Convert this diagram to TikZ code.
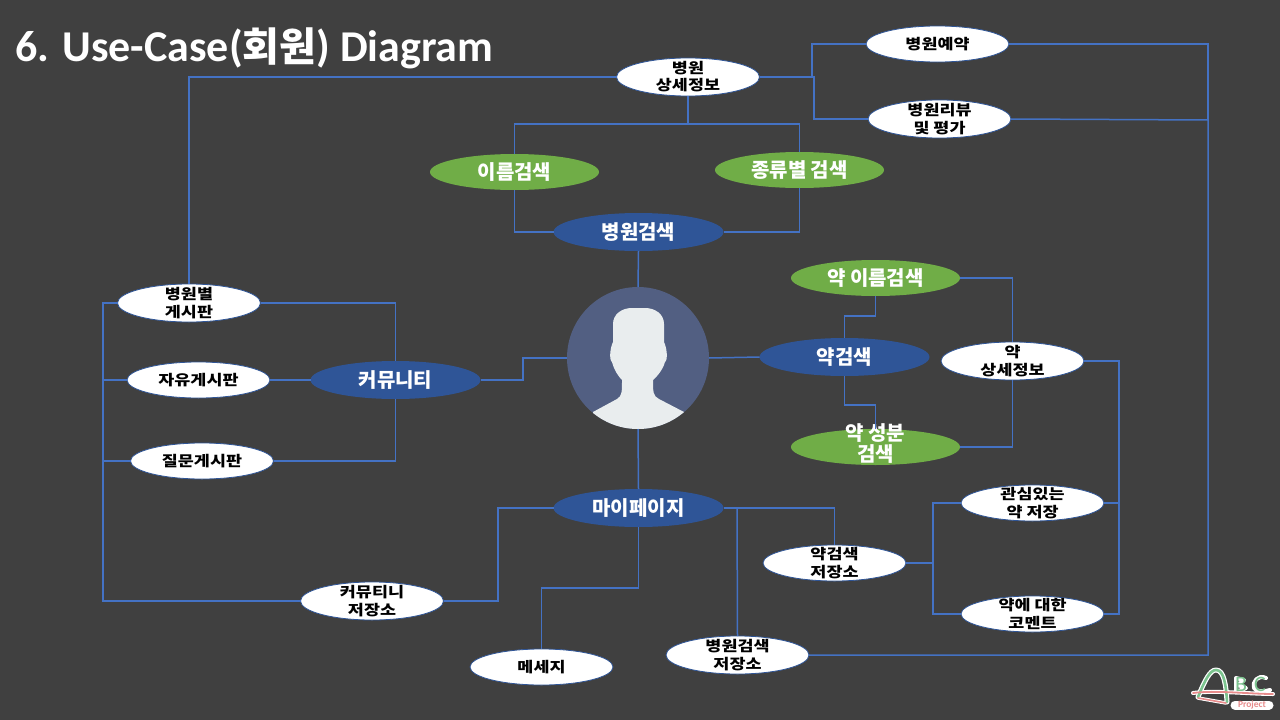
\documentclass[tikz,border=0pt]{standalone}
\usepackage{fontspec}
\setmainfont{Carlito}
\newfontfamily\kr{Noto Sans CJK KR}
\newfontfamily\krw[FakeStretch=1.2]{Noto Sans CJK KR}
\usetikzlibrary{shapes.geometric}
\definecolor{bgc}{HTML}{404040}
\definecolor{linec}{HTML}{4472C4}
\definecolor{bluec}{HTML}{2F5597}
\definecolor{greenc}{HTML}{70AD47}
\definecolor{actorc}{HTML}{525F82}
\definecolor{personc}{HTML}{E9EDEE}
\definecolor{logog}{HTML}{7CC48F}
\definecolor{logor}{HTML}{E88C8C}
\newcommand\one[1]{\makebox[0pt]{\raisebox{-.38em}[0pt][0pt]{#1}}}
\newcommand\two[2]{\makebox[0pt]{\raisebox{3.6pt}[0pt][0pt]{#1}}\makebox[0pt]{\raisebox{-14pt}[0pt][0pt]{#2}}}
\tikzset{
  oval/.style={shape=ellipse,inner sep=0pt,outer sep=0pt},
  whiteuse/.style={oval,fill=white,draw=bluec,line width=.8pt,minimum width=143pt,minimum height=38pt,text=black,font=\krw\bfseries\fontsize{14.5}{15}\selectfont},
  blueuse/.style={oval,fill=bluec,minimum width=170pt,minimum height=38pt,text=white,font=\kr\bfseries\fontsize{20}{20}\selectfont},
  greenuse/.style={oval,fill=greenc,minimum width=169pt,minimum height=36pt,text=white,font=\kr\bfseries\fontsize{20}{20}\selectfont},
  link/.style={draw=linec,line width=1.5pt},
}
\begin{document}
\begin{tikzpicture}[x=1pt,y=-1pt]
\useasboundingbox (0,0) rectangle (1280,720);
\fill[bgc] (0,0) rectangle (1280,720);
\node[anchor=west,inner sep=0pt,text=white,font=\bfseries\fontsize{44}{48}\selectfont] (title) at (15,48) {6. Use-Case({\kr\fontsize{40}{48}\selectfont 회원}) Diagram};
% junction coordinates
\coordinate (jA) at (812,77);
\coordinate (jB) at (814,77);
\coordinate (jC) at (688,124);
\coordinate (jD) at (1208,120);
\coordinate (jE) at (1119,503);
\coordinate (jF) at (933,563);
\coordinate (jG) at (103,380);
\coordinate (jH) at (103,461);
\coordinate (jI) at (737,508);
% connectors
\begin{scope}[on background layer/.style={}]
\end{scope}
% use cases
\node[circle,inner sep=0pt,outer sep=0pt,minimum size=142pt,fill=actorc] (actor) at (638,358) {};
\begin{scope}
\clip (638,358) circle (71pt);
\fill[personc] (593,412) -- (617,399) .. controls (622,396) and (622,392) .. (622,380) .. controls (616,374) and (613,366) .. (612,362) .. controls (609,360) and (610,348) .. (613,342) -- (613,324) .. controls (613,314) and (622,308) .. (632,308) -- (645,308) .. controls (655,308) and (664,314) .. (664,324) -- (664,342) .. controls (667,348) and (668,360) .. (665,362) .. controls (664,366) and (660,374) .. (653,380) .. controls (653,392) and (653,396) .. (659,399) -- (684,412) -- (684,440) -- (593,440) -- cycle;
\end{scope}
\node[whiteuse] (hdetail) at (688,77) {\two{병원}{상세정보}};
\node[whiteuse,minimum height=36pt] (hres) at (937.5,44) {\one{병원예약}};
\node[whiteuse] (hrev) at (939.5,119) {\two{병원리뷰}{및 평가}};
\node[greenuse] (nsearch) at (514.5,172) {\one{이름검색}};
\node[greenuse] (ksearch) at (799.5,170) {\one{종류별 검색}};
\node[blueuse] (hsearch) at (638.5,232) {\one{병원검색}};
\node[greenuse] (mname) at (875.5,278) {\one{약 이름검색}};
\node[blueuse] (msearch) at (844.5,357) {\one{약검색}};
\node[whiteuse] (mdetail) at (1012.5,361) {\two{약}{상세정보}};
\node[greenuse] (mingr) at (875.5,447) {\makebox[0pt]{\raisebox{7pt}[0pt][0pt]{약 성분}}\makebox[0pt]{\raisebox{-14pt}[0pt][0pt]{검색}}};
\node[blueuse] (comm) at (395.5,380) {\one{커뮤니티}};
\node[whiteuse] (bhosp) at (189,303) {\two{병원별}{게시판}};
\node[whiteuse,minimum height=36pt] (bfree) at (198.5,380) {\one{자유게시판}};
\node[whiteuse,minimum height=36pt] (bqna) at (202,461) {\one{질문게시판}};
\node[blueuse] (mypage) at (638.5,508) {\one{마이페이지}};
\node[whiteuse] (scomm) at (372,601) {\two{커뮤티니}{저장소}};
\node[whiteuse,minimum height=36pt] (msg) at (541.5,667) {\one{메세지}};
\node[whiteuse] (shosp) at (737.5,655) {\two{병원검색}{저장소}};
\node[whiteuse,minimum height=36pt] (smed) at (834.5,563) {\two{약검색}{저장소}};
\node[whiteuse,minimum height=36pt] (mfav) at (1032.5,503) {\two{관심있는}{약 저장}};
\node[whiteuse,minimum height=36pt] (mcom) at (1032.5,614) {\two{약에 대한}{코멘트}};
% connectors
\draw[link] (hdetail.west) -| (bhosp.north);
\draw[link] (hdetail.east) -- (jA) |- (hres.west);
\draw[link] (hdetail.east) -- (jB) |- (hrev.west);
\draw[link] (hdetail.south) -- (jC);
\draw[link] (nsearch.north) |- (jC) -| (ksearch.north);
\draw[link] (nsearch.south) |- (hsearch.west);
\draw[link] (ksearch.south) |- (hsearch.east);
\draw[link] (hsearch.south) -- (actor.north);
\draw[link] (mname.south) |- ++(0,20) -| (msearch.north);
\draw[link] (msearch.south) |- ++(0,29) -| (mingr.north);
\draw[link] (mname.east) -| (mdetail.north);
\draw[link] (mdetail.south) |- (mingr.east);
\draw[link] (mdetail.east) -| (jE) |- (mcom.east);
\draw[link] (mfav.east) -- (jE);
\draw[link] (msearch.west) -- (actor.east);
\draw[link] (actor.west) -| (523,380) -- (comm.east);
\draw[link] (comm.west) -- (bfree.east);
\draw[link] (comm.north) |- (bhosp.east);
\draw[link] (comm.south) |- (bqna.east);
\draw[link] (bhosp.west) -| (jG) -- (jH) |- (scomm.west);
\draw[link] (bfree.west) -- (jG);
\draw[link] (bqna.west) -- (jH);
\draw[link] (scomm.east) -| (498,508) -- (mypage.west);
\draw[link] (actor.south) -- (mypage.north);
\draw[link] (mypage.south) |- ++(0,61) -| (msg.north);
\draw[link] (mypage.east) -| (smed.north);
\draw[link] (jI) -- (shosp.north);
\draw[link] (smed.east) -- (jF);
\draw[link] (mfav.west) -| (jF) |- (mcom.west);
\draw[link] (shosp.east) -| (jD) -- (hrev.east);
\draw[link] (hres.east) -| (jD);
% logo
\begin{scope}[line cap=round,line join=round]
\draw[white,line width=5pt] (1198,697) .. controls (1205,680) and (1210,670) .. (1216,670) .. controls (1224,670) and (1226,685) .. (1227,702);
\draw[white,line width=4pt] (1193,693) .. controls (1215,690) and (1250,694) .. (1273,694);
\draw[white,line width=3.5pt] (1198,698) -- (1226,703);
\draw[white,line width=4pt] (1236,678) -- (1236,692) (1236,678) -- (1244,680) -- (1238,685) -- (1246,688) -- (1236,692);
\draw[white,line width=4pt] (1266,678) .. controls (1258,674) and (1252,682) .. (1254,688) .. controls (1256,692) and (1264,692) .. (1270,690);
\draw[white,line width=9pt] (1235,705) -- (1269,705);
\draw[logog,line width=2.6pt] (1198,697) .. controls (1205,680) and (1210,670) .. (1216,670) .. controls (1224,670) and (1226,685) .. (1227,702);
\draw[logor,line width=1.8pt] (1193,693) .. controls (1215,690) and (1250,694) .. (1273,694);
\draw[logor,line width=1.6pt] (1198,698) -- (1226,703);
\end{scope}
\node[inner sep=0pt,text=logog,font=\fontsize{22}{22}\selectfont] (logob) at (1241,684) {B};
\node[inner sep=0pt,text=logog,font=\fontsize{22}{22}\selectfont] (logoc) at (1260,684) {C};
\node[inner sep=0pt,text=logor,font=\bfseries\fontsize{9.5}{9.5}\selectfont] (logop) at (1252,705) {Project};
\end{tikzpicture}
\end{document}
